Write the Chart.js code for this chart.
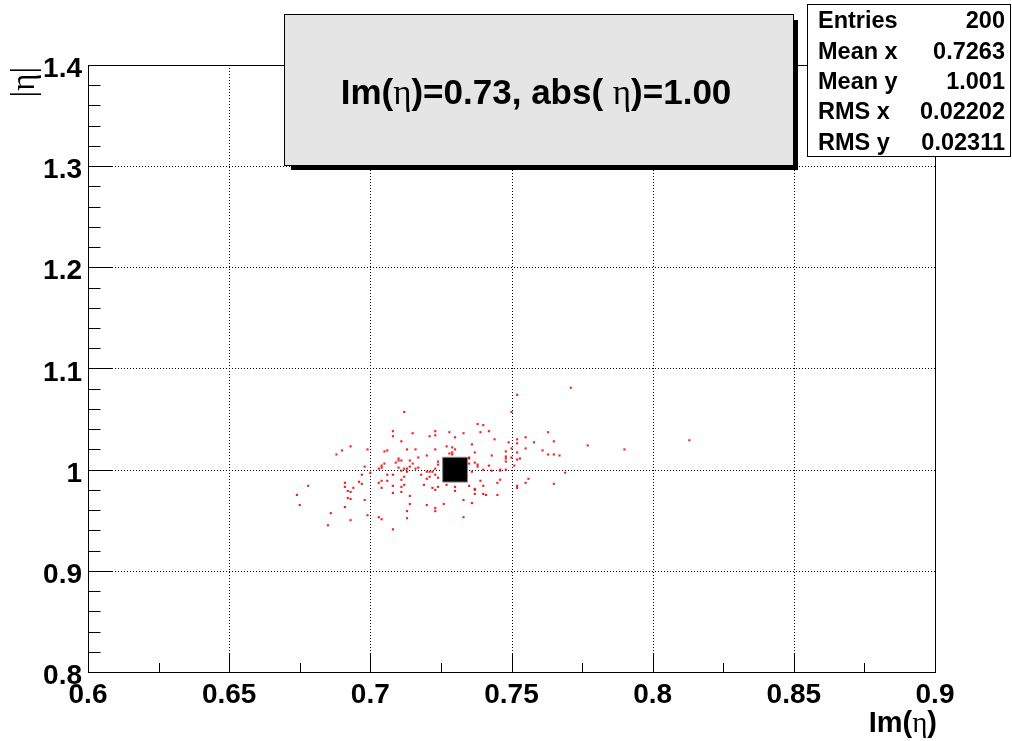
<!DOCTYPE html>
<html><head><meta charset="utf-8">
<script src="https://cdn.jsdelivr.net/npm/chart.js@4/dist/chart.umd.min.js"></script>
<style>html,body{margin:0;padding:0;background:#fff;}canvas{display:block}</style>
</head><body>
<canvas id="c" width="1012" height="741"></canvas>
<script>
// ---- data ----
const pointsX = [
0.712,0.708,0.715,0.708,0.711,0.693,0.690,0.699,0.705,0.706,0.713,0.716,0.688,0.710,0.717,
0.698,0.700,0.703,0.704,0.705,0.704,0.709,0.710,0.711,0.710,0.711,0.712,0.713,0.713,0.714,0.715,0.714,0.716,0.717,
0.697,0.706,0.708,0.712,0.678,0.691,0.697,0.696,0.704,0.706,0.703,0.711,0.712,0.691,0.694,0.692,0.693,0.704,0.708,
0.711,0.711,0.708,0.674,0.692,0.693,0.698,0.714,0.675,0.691,0.714,0.686,0.699,0.713,0.703,0.704,0.713,0.693,0.685,0.708,
0.752,0.750,0.738,0.740,0.723,0.728,0.733,0.739,0.742,0.721,0.723,0.730,0.744,0.763,0.752,0.755,0.749,0.752,0.758,
0.736,0.727,0.729,0.730,0.723,0.737,0.729,0.728,0.729,0.750,0.755,0.761,0.720,0.735,0.735,0.743,0.748,0.752,0.748,
0.748,0.750,0.753,0.763,
0.724,0.724,0.723,0.718,0.720,0.721,0.722,0.723,0.720,0.721,0.724,0.719,0.734,0.735,0.737,0.738,0.738,0.736,0.734,
0.740,0.742,0.743,0.746,0.746,0.748,0.748,0.751,0.752,0.739,0.746,0.745,0.740,0.727,0.724,0.722,0.723,0.730,0.730,
0.735,0.737,0.737,0.756,0.755,0.752,0.752,0.737,0.740,0.741,0.745,0.733,0.736,0.720,0.726,0.723,0.723,0.733,
0.771,0.765,0.777,0.790,0.765,0.767,0.813,0.769,0.765
];
const pointsY = [
1.057,1.038,1.036,1.033,1.028,1.023,1.019,1.020,1.018,1.019,1.020,1.020,1.015,1.011,1.012,
1.003,0.997,1.001,1.004,1.006,1.002,1.007,1.009,1.009,1.002,0.999,1.001,0.998,1.001,1.009,1.006,1.003,1.001,1.002,
0.995,0.995,0.995,0.993,0.984,0.987,0.986,0.988,0.989,0.989,0.987,0.990,0.985,0.983,0.982,0.979,0.978,0.982,0.984,
0.983,0.978,0.977,0.975,0.972,0.971,0.970,0.974,0.965,0.963,0.966,0.957,0.955,0.959,0.953,0.951,0.952,0.950,0.945,0.941,
1.074,1.057,1.045,1.044,1.038,1.037,1.036,1.037,1.038,1.033,1.034,1.032,1.030,1.037,1.030,1.032,1.027,1.026,1.027,
1.025,1.023,1.022,1.020,1.020,1.017,1.017,1.016,1.015,1.021,1.021,1.019,1.014,1.012,1.011,1.014,1.018,1.017,1.013,
1.011,1.012,1.011,1.015,
1.008,1.005,1.001,0.995,0.998,0.998,0.998,0.995,0.991,0.993,0.992,0.985,1.005,1.006,1.007,1.005,1.003,0.998,0.994,
1.000,1.004,0.999,0.999,1.000,1.000,1.008,1.004,1.010,0.989,0.990,0.987,0.984,0.985,0.983,0.982,0.980,0.983,0.979,
0.984,0.981,0.980,0.991,0.987,0.984,0.982,0.976,0.976,0.975,0.975,0.970,0.967,0.965,0.966,0.962,0.959,0.953,
1.081,1.028,1.024,1.020,1.015,1.014,1.029,0.997,0.986
];
const markerX = [0.73];
const markerY = [1.00];

const xTickValues = [0.6, 0.65, 0.7, 0.75, 0.8, 0.85, 0.9];
const xTickLabels = ['0.6', '0.65', '0.7', '0.75', '0.8', '0.85', '0.9'];
const yTickValues = [0.8, 0.9, 1.0, 1.1, 1.2, 1.3, 1.4];
const yTickLabels = ['0.8', '0.9', '1', '1.1', '1.2', '1.3', '1.4'];

const statsLabels = ['Entries', 'Mean x', 'Mean y', 'RMS x', 'RMS y'];
const statsValues = ['200', '0.7263', '1.001', '0.02202', '0.02311'];

const titleParts = [['Im(', 'b'], ['\u03B7', 'g'], [')=0.73, abs( ', 'b'], ['\u03B7', 'g'], [')=1.00', 'b']];
const xTitleParts = [['Im(', 'b'], ['\u03B7', 'g'], [')', 'b']];
const yTitleParts = [['|', 'g'], ['\u03B7', 'g'], ['|', 'g']];

// ---- drawing helpers ----
const SANS = '"Liberation Sans", Arial, Helvetica, sans-serif';
const SERIF = '"Liberation Serif", "DejaVu Serif", serif';
function fontFor(kind, size) {
  return kind === 'b' ? `bold ${size}px ${SANS}` : `${size}px ${SERIF}`;
}
function partsWidth(ctx, parts, size) {
  let w = 0;
  for (const [t, k] of parts) { ctx.font = fontFor(k, size); w += ctx.measureText(t).width; }
  return w;
}
function drawParts(ctx, parts, x, y, size, align) {
  const w = partsWidth(ctx, parts, size);
  let cx = align === 'center' ? x - w / 2 : (align === 'right' ? x - w : x);
  ctx.textAlign = 'left';
  ctx.textBaseline = 'alphabetic';
  for (const [t, k] of parts) {
    ctx.font = fontFor(k, size);
    ctx.fillText(t, cx, y);
    cx += ctx.measureText(t).width;
  }
}

const rootPlugin = {
  id: 'rootStyle',
  beforeDatasetsDraw(chart) {
    const { ctx, chartArea: a, scales: { x, y } } = chart;
    ctx.save();
    ctx.strokeStyle = '#000';
    ctx.lineWidth = 1;
    // dotted grid
    ctx.setLineDash([1, 2]);
    ctx.beginPath();
    xTickValues.forEach(v => {
      const px = Math.round(x.getPixelForValue(v)) + 0.5;
      if (px > a.left + 2 && px < a.right - 2) { ctx.moveTo(px, a.top); ctx.lineTo(px, a.bottom); }
    });
    yTickValues.forEach(v => {
      const py = Math.round(y.getPixelForValue(v)) + 0.5;
      if (py > a.top + 2 && py < a.bottom - 2) { ctx.moveTo(a.left, py); ctx.lineTo(a.right, py); }
    });
    ctx.stroke();
    ctx.setLineDash([]);
    // ticks (inside the frame)
    ctx.beginPath();
    for (let i = 0; i < xTickValues.length; i++) {
      const px = Math.round(x.getPixelForValue(xTickValues[i])) + 0.5;
      ctx.moveTo(px, a.bottom); ctx.lineTo(px, a.bottom - 18);
      if (i < xTickValues.length - 1) {
        const m = Math.round(x.getPixelForValue((xTickValues[i] + xTickValues[i + 1]) / 2)) + 0.5;
        ctx.moveTo(m, a.bottom); ctx.lineTo(m, a.bottom - 9);
      }
    }
    for (let i = 0; i < yTickValues.length; i++) {
      const py = Math.round(y.getPixelForValue(yTickValues[i])) + 0.5;
      ctx.moveTo(a.left, py); ctx.lineTo(a.left + 25, py);
      if (i < yTickValues.length - 1) {
        for (let k = 1; k < 5; k++) {
          const v = yTickValues[i] + k * (yTickValues[i + 1] - yTickValues[i]) / 5;
          const pm = Math.round(y.getPixelForValue(v)) + 0.5;
          ctx.moveTo(a.left, pm); ctx.lineTo(a.left + 12.5, pm);
        }
      }
    }
    ctx.stroke();
    ctx.restore();
  },
  afterDatasetsDraw(chart) {
    const { ctx, chartArea: a, scales: { x, y } } = chart;
    ctx.save();
    // frame
    ctx.strokeStyle = '#000';
    ctx.lineWidth = 1;
    ctx.strokeRect(Math.round(a.left) + 0.5, Math.round(a.top) + 0.5,
                   Math.round(a.right - a.left), Math.round(a.bottom - a.top));
    ctx.fillStyle = '#000';
    // tick labels
    ctx.font = `bold 28px ${SANS}`;
    ctx.textBaseline = 'alphabetic';
    ctx.textAlign = 'center';
    xTickValues.forEach((v, i) => ctx.fillText(xTickLabels[i], x.getPixelForValue(v), 703));
    ctx.textAlign = 'right';
    yTickValues.forEach((v, i) => ctx.fillText(yTickLabels[i], 82, y.getPixelForValue(v) + 12));
    // axis titles
    drawParts(ctx, xTitleParts, a.right + 2, 732, 29, 'right');
    ctx.save();
    ctx.translate(34, a.top + 2);
    ctx.rotate(-Math.PI / 2);
    drawParts(ctx, yTitleParts, 0, 0, 33, 'right');
    ctx.restore();
    // title box with shadow
    ctx.fillStyle = '#000';
    ctx.fillRect(291, 165, 507, 5);
    ctx.fillRect(793, 20, 5, 150);
    ctx.fillStyle = '#e5e5e5';
    ctx.fillRect(284.5, 14.5, 509, 151);
    ctx.strokeRect(284.5, 14.5, 509, 151);
    ctx.fillStyle = '#000';
    drawParts(ctx, titleParts, 536, 104, 35, 'center');
    // stats box
    ctx.fillStyle = '#fff';
    ctx.fillRect(807.5, 4.5, 203, 152);
    ctx.strokeRect(807.5, 4.5, 203, 152);
    ctx.fillStyle = '#000';
    ctx.font = `bold 23.5px ${SANS}`;
    const rowH = 152 / statsLabels.length;
    statsLabels.forEach((lab, i) => {
      const cy = 4.5 + (i + 0.5) * rowH + 8.5;
      ctx.textAlign = 'left'; ctx.fillText(lab, 818, cy);
      ctx.textAlign = 'right'; ctx.fillText(statsValues[i], 1005, cy);
    });
    ctx.restore();
  }
};

new Chart(document.getElementById('c'), {
  type: 'scatter',
  data: {
    datasets: [
      {
        label: 'marker',
        data: markerX.map((v, i) => ({ x: v, y: markerY[i] })),
        pointStyle: 'rect',
        pointRadius: 17.5,
        pointHoverRadius: 17.5,
        backgroundColor: '#000',
        borderColor: '#808080',
        borderWidth: 1,
        order: 0
      },
      {
        label: 'entries',
        data: pointsX.map((v, i) => ({ x: v, y: pointsY[i] })),
        pointStyle: 'rect',
        pointRadius: 1.5,
        pointHoverRadius: 1.5,
        backgroundColor: 'rgba(255,0,0,0.9)',
        borderWidth: 0,
        order: 1
      }
    ]
  },
  options: {
    responsive: false,
    animation: false,
    devicePixelRatio: 1,
    layout: { padding: { left: 88, top: 65, right: 77, bottom: 69 } },
    scales: {
      x: { type: 'linear', min: 0.6, max: 0.9, display: false },
      y: { type: 'linear', min: 0.8, max: 1.4, display: false }
    },
    plugins: { legend: { display: false }, tooltip: { enabled: false } },
    events: []
  },
  plugins: [rootPlugin]
});
</script>
</body></html>
